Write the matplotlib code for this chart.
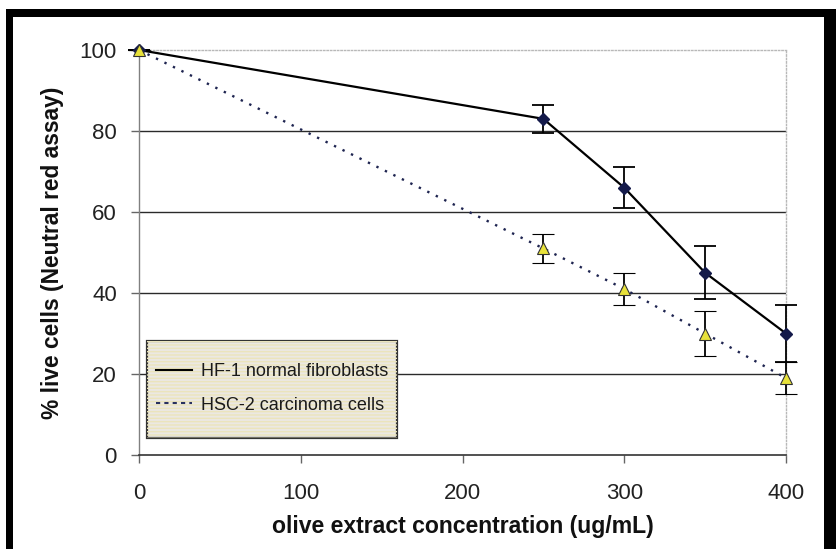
import matplotlib
matplotlib.use('Agg')
import matplotlib.pyplot as plt
from matplotlib.patches import Rectangle
from matplotlib.lines import Line2D

# data
conc = [0, 250, 300, 350, 400]
hf1 = [100, 83, 66, 45, 30]
hf1_err = [0, 3.5, 5, 6.5, 7]
hsc2 = [100, 51, 41, 30, 19]
hsc2_err = [0, 3.5, 4, 5.5, 4]
x_ticks = [0, 100, 200, 300, 400]
y_ticks = [0, 20, 40, 60, 80, 100]
labels = ['HF-1 normal fibroblasts', 'HSC-2 carcinoma cells']

plt.rcParams['font.family'] = ['Liberation Sans', 'DejaVu Sans']

W, H = 836, 549
fig = plt.figure(figsize=(W / 100, H / 100), dpi=100)
fig.patch.set_facecolor('white')
ax = fig.add_axes([139 / W, 1 - 455 / H, (786 - 139) / W, (455 - 50) / H])

# thick black scan frame
def px_rect(x0, y0, x1, y1):
    fig.add_artist(Rectangle((x0 / W, 1 - y1 / H), (x1 - x0) / W, (y1 - y0) / H,
                             transform=fig.transFigure, facecolor='black',
                             edgecolor='none', zorder=0))
px_rect(6, 9, 830, 17)
px_rect(6, 9, 13, H)
px_rect(824, 9, W, H)

# gridlines
for y in y_ticks[1:-1]:
    ax.axhline(y, color='#2a2a2a', lw=1.0, zorder=1)

ax.errorbar(conc, hf1, yerr=hf1_err, color='black', lw=1.6, marker='D',
            markersize=6.5, markerfacecolor='#141a4a', markeredgecolor='#141a4a',
            ecolor='black', elinewidth=1.3, capsize=8, capthick=1.3,
            zorder=4, clip_on=False)
ax.errorbar(conc, hsc2, yerr=hsc2_err, color='#1e2450', lw=1.7, ls=(0, (1, 3)),
            marker='^', markersize=8, markerfacecolor='#e8e23a',
            markeredgecolor='#333333', markeredgewidth=0.8,
            ecolor='black', elinewidth=1.3, capsize=8, capthick=1.3,
            zorder=4, clip_on=False)

ax.set_xlim(0, 400)
ax.set_ylim(0, 100)
ax.set_xticks(x_ticks)
ax.set_yticks(y_ticks)

for side in ['top', 'right']:
    ax.spines[side].set_color('#b8b8b8')
    ax.spines[side].set_linestyle((0, (1, 1.5)))
    ax.spines[side].set_linewidth(1.0)
ax.spines['left'].set_color('#808080')
ax.spines['bottom'].set_color('#333333')
ax.spines['left'].set_linewidth(1.0)
ax.spines['bottom'].set_linewidth(1.2)

ax.tick_params(axis='x', direction='out', length=6, width=1, color='#666666',
               pad=14, labelsize=16, labelcolor='#222222')
ax.tick_params(axis='y', direction='out', length=6, width=1, color='#666666',
               pad=10, labelsize=16, labelcolor='#222222')

ax.set_xlabel('olive extract concentration (ug/mL)', fontsize=16.6,
              fontweight='bold', color='#111111', va='center')
ax.xaxis.set_label_coords(0.5, (455 - 527) / 405)
ax.set_ylabel('% live cells (Neutral red assay)', fontsize=16.4,
              fontweight='bold', color='#111111', va='center')
ax.yaxis.set_label_coords((53 - 139) / 647, 0.5)

# legend box
ax.add_patch(Rectangle((0.012, 0.042), 0.387, 0.239, transform=ax.transAxes,
                       facecolor='#ebe8e2', edgecolor='#333333', lw=1.6,
                       zorder=5, clip_on=False))
ax.add_patch(Rectangle((0.012, 0.042), 0.387, 0.239, transform=ax.transAxes,
                       facecolor='none', edgecolor='#ebe4bc', lw=0,
                       hatch='-----', zorder=5, clip_on=False))
handles = [Line2D([], [], color='black', lw=1.5),
           Line2D([], [], color='#283060', lw=1.5, ls=(0, (2, 2)))]
leg = ax.legend(handles, labels, loc='center', bbox_to_anchor=(0.206, 0.164),
                frameon=False, fontsize=13, handlelength=2.0,
                handletextpad=0.5, labelspacing=0.9)
leg.set_zorder(6)
for t in leg.get_texts():
    t.set_color('#1a1a1a')

fig.savefig('out.png', dpi=100)
